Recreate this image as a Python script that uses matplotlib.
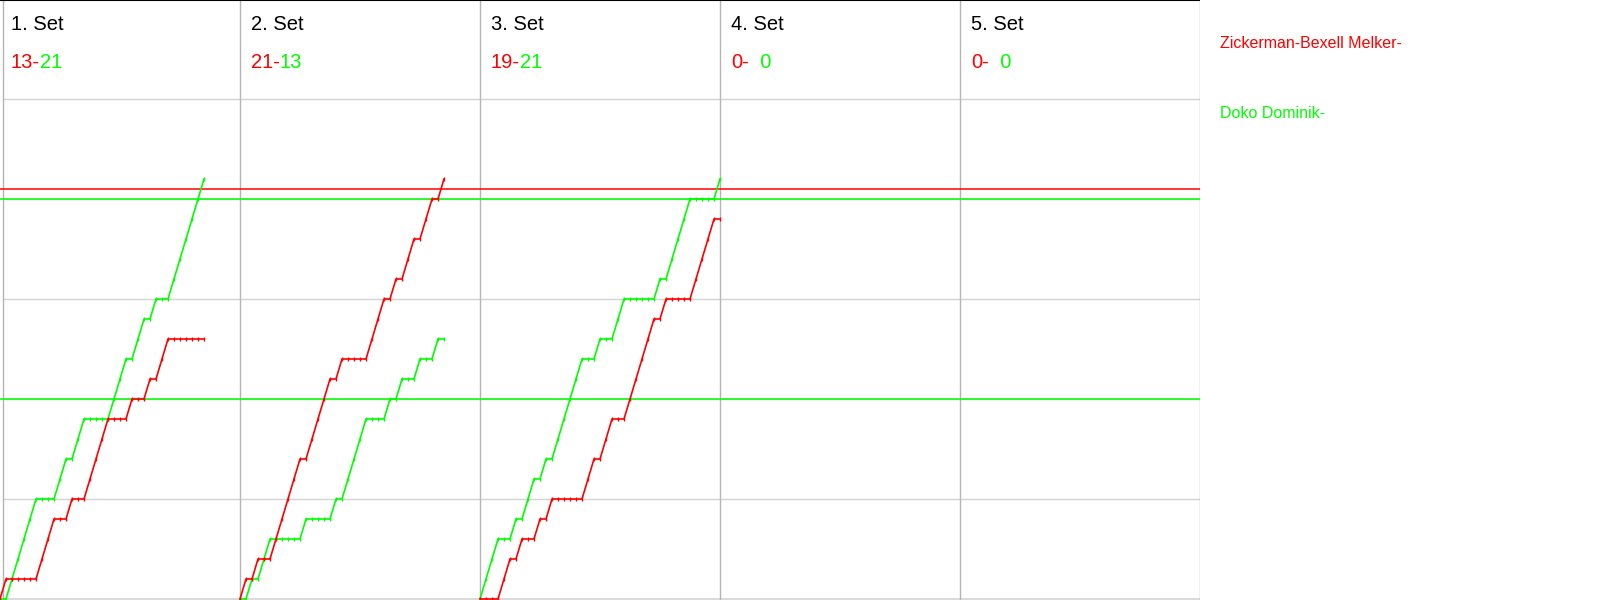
import matplotlib.pyplot as plt
import numpy as np
from matplotlib import rcParams

rcParams['font.family'] = ['Liberation Sans', 'DejaVu Sans']

RED = '#ff0000'
GREEN = '#00ff00'
GRID = '#d3d3d3'
EDGE = '#b4b4b4'

# rally winners per set, R = Zickerman-Bexell, G = Doko
set_names = ['1. Set', '2. Set', '3. Set', '4. Set', '5. Set']
rallies = [
    'RGGGGGRRRGGRGGRRRRGGGRGGRGRRGGGGGG',
    'RGRGGRRRRRGRRRRGRGGGGRRRGRGRRGRRGR',
    'GGGRRGRGGRGRGGGGGRRGRRGGRRRRRGRGGGGRRRRG',
    '',
    '',
]
red_points = [13, 21, 19, 0, 0]
green_points = [21, 13, 21, 0, 0]
player_red = 'Zickerman-Bexell Melker-'
player_green = 'Doko Dominik-'

set_width = 40          # rallies per panel
grid_levels = [5, 10, 15, 20, 25]
green_marks = [10, 20]
red_marks = [20.5]

fig = plt.figure(figsize=(16, 6), dpi=100)
ax = fig.add_axes([0, 0, 0.75, 1])
ax.set_xlim(0, 5 * set_width)
ax.set_ylim(-0.05, 29.95)
ax.axis('off')

x_left = 0.45 / (5 * set_width)
for lvl in grid_levels:
    ax.axhline(lvl, xmin=x_left, color=GRID, lw=1, zorder=1)
ax.axhline(0.0, xmin=x_left, color=GRID, lw=1.2, zorder=1)
for k in range(1, 6):
    ax.axvline(k * set_width, color=EDGE, lw=1, zorder=1)
ax.axvline(0.45, color=EDGE, lw=1, zorder=1)
ax.axhline(29.93, color='black', lw=1.5, zorder=5)

for lvl in green_marks:
    ax.axhline(lvl, color=GREEN, lw=1.1, zorder=2)
for lvl in red_marks:
    ax.axhline(lvl, color=RED, lw=1.1, zorder=2)

for k, seq in enumerate(rallies):
    x0 = k * set_width
    ax.text(x0 + 1.8, 28.75, set_names[k], fontsize=14.5, va='center', ha='left')
    red_txt = ax.text(x0 + 1.8, 26.8, f'{red_points[k]}-', color=RED,
                      fontsize=14.5, va='center', ha='left')
    g = str(green_points[k])
    if len(g) < 2:
        g = '  ' + g
    ax.annotate(g, xy=(1, 0), xycoords=red_txt, color=GREEN, fontsize=14.5,
                va='bottom', ha='left')
    if not seq:
        continue
    wins = np.array(list(seq))
    red = np.concatenate([[0], np.cumsum(wins == 'R')])
    green = np.concatenate([[0], np.cumsum(wins == 'G')])
    x = x0 + np.arange(len(red))
    ax.plot(x, green, color=GREEN, lw=1.2, marker='|', ms=3, mew=1, zorder=3)
    ax.plot(x, red, color=RED, lw=1.2, marker='|', ms=3, mew=1, zorder=3)

fig.text(1220 / 1600, 1 - 44 / 600, player_red, color=RED, fontsize=11.5,
         va='center', ha='left')
fig.text(1220 / 1600, 1 - 114 / 600, player_green, color=GREEN, fontsize=11.5,
         va='center', ha='left')

fig.savefig('out.png', dpi=100)
